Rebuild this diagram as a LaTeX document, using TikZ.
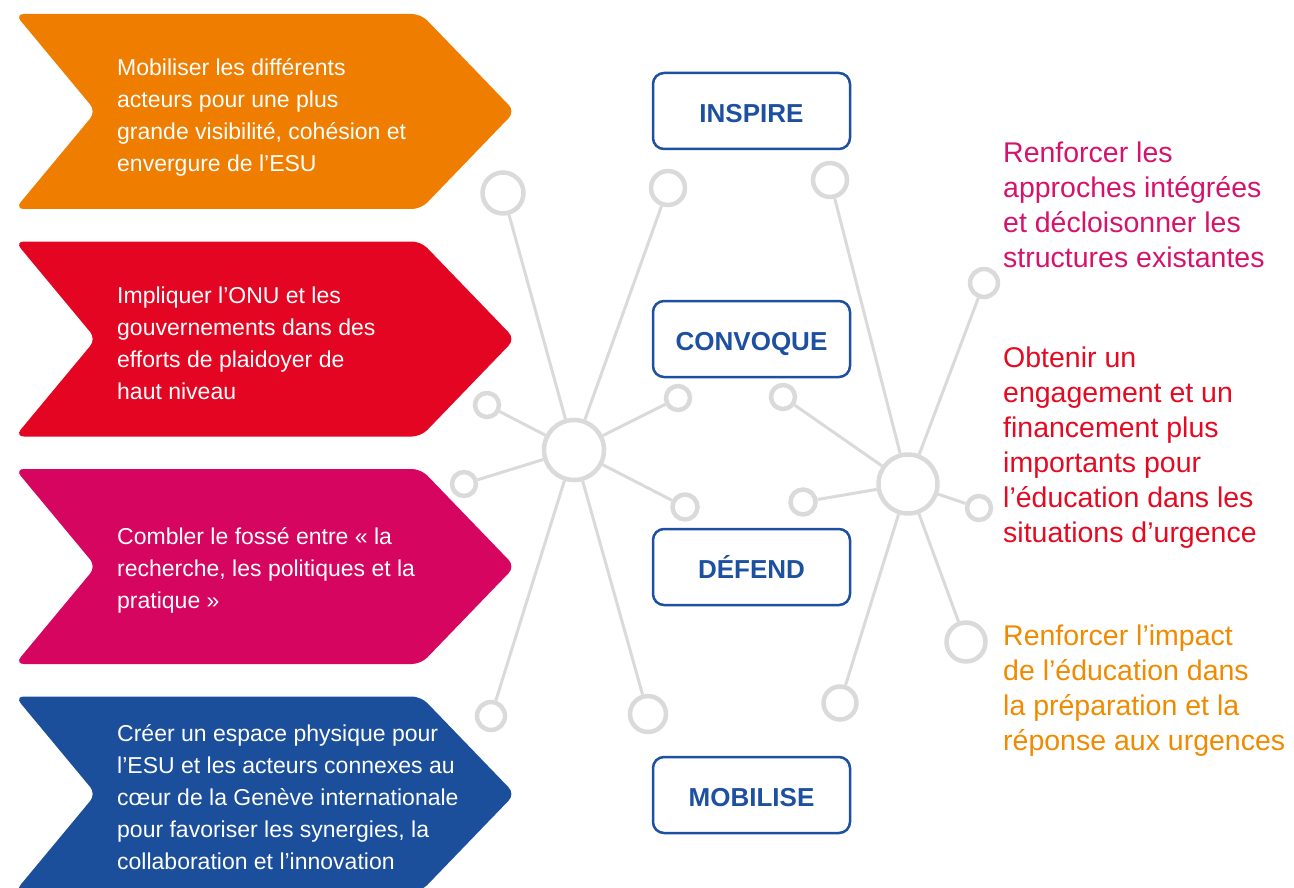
\documentclass[tikz,border=0pt]{standalone}
\usepackage{fontspec}
\setmainfont{Liberation Sans}
\definecolor{chorange}{HTML}{EF7D00}
\definecolor{chred}{HTML}{E30521}
\definecolor{chpink}{HTML}{D6055F}
\definecolor{chblue}{HTML}{1B4F9C}
\definecolor{tagblue}{HTML}{1D50A0}
\definecolor{netgray}{HTML}{DADADA}
\definecolor{goalpink}{HTML}{D6136C}
\definecolor{goalred}{HTML}{E30A22}
\definecolor{goalorange}{HTML}{F08A00}
\begin{document}
\begin{tikzpicture}[x=1pt,y=-1pt,
    spoke/.style={draw=netgray,line width=3pt},
    knot/.style={circle,draw=netgray,line width=4.5pt,fill=white,inner sep=0pt,minimum size=#1},
    tag/.style={draw=tagblue,line width=2.5pt,rounded corners=11pt,minimum width=197pt,minimum height=76pt,
        text height=22.6pt,text depth=0pt,text=tagblue,font=\fontsize{26}{30}\selectfont\bfseries},
    chevtext/.style={anchor=west,align=left,inner sep=0pt,text=white,font=\fontsize{23}{32}\selectfont},
    goal/.style={anchor=west,align=left,inner sep=0pt,font=\fontsize{28.5}{35}\selectfont}]
    \useasboundingbox (0,0) rectangle (1294,888);
    % chevrons
    \foreach \col/\top in {chorange/14,chred/241.5,chpink/469,chblue/696.5}
        \fill[\col,rounded corners=9pt] (15,\top) -- (421,\top) -- (515,\top+97.5) -- (421,\top+195)
            -- (15,\top+195) -- (96,\top+97.5) -- cycle;
    \node[chevtext] (aim1) at (117,117) {Mobiliser les différents\\acteurs pour une plus\\grande visibilité, cohésion et\\envergure de l’ESU};
    \node[chevtext] (aim2) at (117,343) {Impliquer l’ONU et les\\gouvernements dans des\\efforts de plaidoyer de\\haut niveau};
    \node[chevtext] (aim3) at (117,570) {Combler le fossé entre «~la\\recherche, les politiques et la\\pratique~»};
    \node[chevtext] (aim4) at (117,797) {Créer un espace physique pour\\l’ESU et les acteurs connexes au\\cœur de la Genève internationale\\pour favoriser les synergies, la\\collaboration et l’innovation};
    % left network
    \node[knot=60pt] (lhub) at (574,450) {};
    \node[knot=41pt] (lt) at (503,193) {};
    \node[knot=34pt] (ltr) at (668,188) {};
    \node[knot=24pt] (lru) at (678,398) {};
    \node[knot=24pt] (llu) at (487,405) {};
    \node[knot=24pt] (ll) at (464,484) {};
    \node[knot=25pt] (lrd) at (685,507) {};
    \node[knot=28pt] (lbl) at (491,716) {};
    \node[knot=36pt] (lbr) at (648,714) {};
    \foreach \k in {lt,ltr,lru,llu,ll,lrd,lbl,lbr}
        \draw[spoke] (lhub) -- (\k);
    % right network
    \node[knot=59pt] (rhub) at (908,484) {};
    \node[knot=34pt] (rt) at (830,180) {};
    \node[knot=28pt] (rru) at (984,283) {};
    \node[knot=24pt] (rlu) at (783,397) {};
    \node[knot=25pt] (rl) at (803,502) {};
    \node[knot=24pt] (rr) at (979,508) {};
    \node[knot=39pt] (rbr) at (966,642) {};
    \node[knot=33pt] (rbl) at (840,703) {};
    \foreach \k in {rt,rru,rlu,rl,rr,rbr,rbl}
        \draw[spoke] (rhub) -- (\k);
    % roles
    \node[tag] (inspire) at (751.5,111) {INSPIRE};
    \node[tag] (convoque) at (751.5,339) {CONVOQUE};
    \node[tag] (defend) at (751.5,567) {DÉFEND};
    \node[tag] (mobilise) at (751.5,795) {MOBILISE};
    % goals
    \node[goal,text=goalpink] (goal1) at (1003,205) {Renforcer les\\approches intégrées\\et décloisonner les\\structures existantes};
    \node[goal,text=goalred] (goal2) at (1003,448) {Obtenir un\\engagement et un\\financement plus\\importants pour\\l’éducation dans les\\situations d’urgence};
    \node[goal,text=goalorange] (goal3) at (1003,691) {Renforcer l’impact\\de l’éducation dans\\la préparation et la\\réponse aux urgences};
\end{tikzpicture}
\end{document}
